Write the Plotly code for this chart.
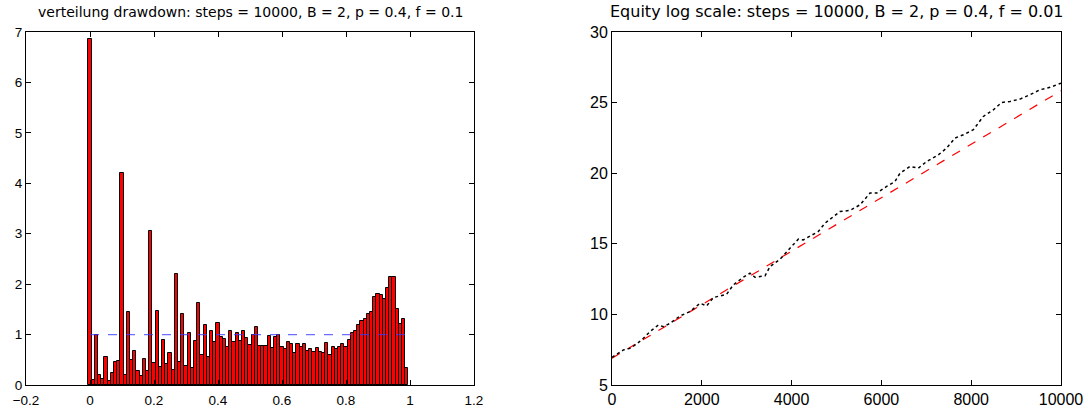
import plotly.graph_objects as go

# ---------------- data ----------------
# Histogram of drawdowns (bar centres 0.00 .. 0.99, step 0.01)
dd_centers = [round(0.01 * k, 2) for k in range(100)]
dd_heights = [
    6.87, 0.10, 0.99, 0.19, 0.11, 0.55, 0.08, 0.23, 0.46, 0.48,
    4.21, 0.19, 1.44, 0.49, 0.68, 0.28, 0.17, 0.51, 0.28, 3.06,
    0.43, 1.47, 0.35, 0.89, 0.41, 0.63, 0.30, 2.20, 0.45, 1.40,
    0.38, 1.03, 0.33, 0.87, 1.63, 0.59, 1.18, 0.56, 1.08, 0.86,
    1.22, 0.95, 0.92, 0.75, 1.08, 0.86, 1.03, 0.88, 1.08, 0.93,
    0.80, 1.00, 1.15, 0.78, 0.77, 0.78, 0.97, 0.73, 0.95, 0.99,
    0.75, 0.71, 0.85, 0.81, 0.63, 0.82, 0.75, 0.81, 0.67, 0.71,
    0.65, 0.73, 0.65, 0.63, 0.83, 0.60, 0.76, 0.71, 0.75, 0.82,
    0.75, 0.90, 1.04, 1.08, 1.18, 1.27, 1.31, 1.41, 1.45, 1.75,
    1.80, 1.79, 1.70, 1.92, 2.14, 2.14, 1.50, 1.21, 1.30, 0.33,
]
uniform_x = [0, 1]
uniform_y = [1, 1]

# Equity (log scale) curve
eq_steps = [0, 252, 401, 549, 698, 846, 1032, 1143, 1292, 1514, 1737, 1960,
            2108, 2257, 2554, 2702, 2925, 3073, 3185, 3408, 3519, 3742, 3965,
            4150, 4261, 4410, 4595, 4744, 4929, 5078, 5301, 5523, 5746, 5894,
            6117, 6303, 6414, 6637, 6823, 7008, 7268, 7454, 7639, 7825, 8048,
            8270, 8493, 8679, 8864, 9087, 9310, 9532, 9755, 10000]
eq_log = [6.96, 7.48, 7.60, 7.90, 8.31, 8.78, 9.25, 9.13, 9.37, 9.89, 10.20,
          10.79, 10.60, 11.19, 11.43, 12.09, 12.63, 12.92, 12.63, 12.73, 13.39,
          13.91, 14.69, 15.33, 15.28, 15.52, 15.87, 16.46, 16.93, 17.29, 17.36,
          17.76, 18.59, 18.59, 19.06, 19.41, 20.00, 20.48, 20.36, 20.83, 21.30,
          21.78, 22.49, 22.72, 23.08, 24.02, 24.49, 25.01, 25.08, 25.25, 25.56,
          25.91, 26.08, 26.38]
trend_x = [0, 10000]
trend_y = [6.9, 25.84]

# tick labels
left_x_ticks = [-0.2, 0, 0.2, 0.4, 0.6, 0.8, 1, 1.2]
left_x_labels = ["\u22120.2", "0", "0.2", "0.4", "0.6", "0.8", "1", "1.2"]
right_x_ticks = [0, 2000, 4000, 6000, 8000, 10000]
right_x_labels = ["0", "2000", "4000", "6000", "8000", "10000"]

left_title = "verteilung drawdown: steps = 10000, B = 2, p = 0.4, f = 0.1"
right_title = "Equity log scale: steps = 10000, B = 2, p = 0.4, f = 0.01"

# ---------------- figure ----------------
W, H = 1088, 413
FONT = "Liberation Sans, Arial, Helvetica, sans-serif"
TITLE_FONT = "DejaVu Sans, Verdana, sans-serif"
RIGHT_TICK_SIZE = 16

fig = go.Figure()

fig.add_trace(go.Bar(
    x=dd_centers, y=dd_heights, width=0.01,
    marker=dict(color="#ff0000", line=dict(color="black", width=1)),
    xaxis="x", yaxis="y", showlegend=False,
))
fig.add_trace(go.Scatter(
    x=uniform_x, y=uniform_y, mode="lines",
    line=dict(color="rgba(60,60,255,0.75)", width=1.3, dash="dash"),
    xaxis="x", yaxis="y", showlegend=False,
))

fig.add_trace(go.Scatter(
    x=trend_x, y=trend_y, mode="lines",
    line=dict(color="#ff0000", width=1.2, dash="dash"),
    xaxis="x2", yaxis="y2", showlegend=False,
))
fig.add_trace(go.Scatter(
    x=eq_steps, y=eq_log, mode="lines",
    line=dict(color="black", width=1.5, dash="dot"),
    xaxis="x2", yaxis="y2", showlegend=False,
))

def px_x(p):
    return p / W

def px_y(p):
    return (H - p) / H

def axis_common(size):
    return dict(
        showline=True, linecolor="black", linewidth=1, mirror="ticks",
        ticks="inside", ticklen=5, tickcolor="black", tickwidth=1,
        showgrid=False, zeroline=False,
        tickfont=dict(family=FONT, size=size, color="black"),
        automargin=False, fixedrange=True,
    )

fig.update_layout(
    width=W, height=H,
    margin=dict(l=0, r=0, t=0, b=0),
    paper_bgcolor="white", plot_bgcolor="white",
    bargap=0,
    xaxis=dict(domain=[px_x(26), px_x(474)], range=[-0.2, 1.2],
               tickvals=left_x_ticks, ticktext=left_x_labels,
               anchor="y", ticklabelstandoff=3, **axis_common(13.5)),
    yaxis=dict(domain=[px_y(385), px_y(32)], range=[0, 7], dtick=1,
               anchor="x", **axis_common(13.5)),
    xaxis2=dict(domain=[px_x(612), px_x(1061)], range=[0, 10000],
                tickvals=right_x_ticks, ticktext=right_x_labels,
                anchor="y2", **axis_common(RIGHT_TICK_SIZE)),
    yaxis2=dict(domain=[px_y(385), px_y(32)], range=[5, 30], dtick=5,
                anchor="x2", **axis_common(RIGHT_TICK_SIZE)),
    annotations=[
        dict(text=left_title, x=(px_x(26) + px_x(474)) / 2, y=px_y(12),
             xref="paper", yref="paper", xanchor="center", yanchor="middle",
             showarrow=False,
             font=dict(family=TITLE_FONT, size=14, color="black")),
        dict(text=right_title, x=(px_x(612) + px_x(1061)) / 2, y=px_y(12),
             xref="paper", yref="paper", xanchor="center", yanchor="middle",
             showarrow=False,
             font=dict(family=TITLE_FONT, size=16, color="black")),
    ],
)

fig.write_html("out.html", config={"displayModeBar": False},
               post_script="document.body.style.margin='0';document.body.style.padding='0';")
